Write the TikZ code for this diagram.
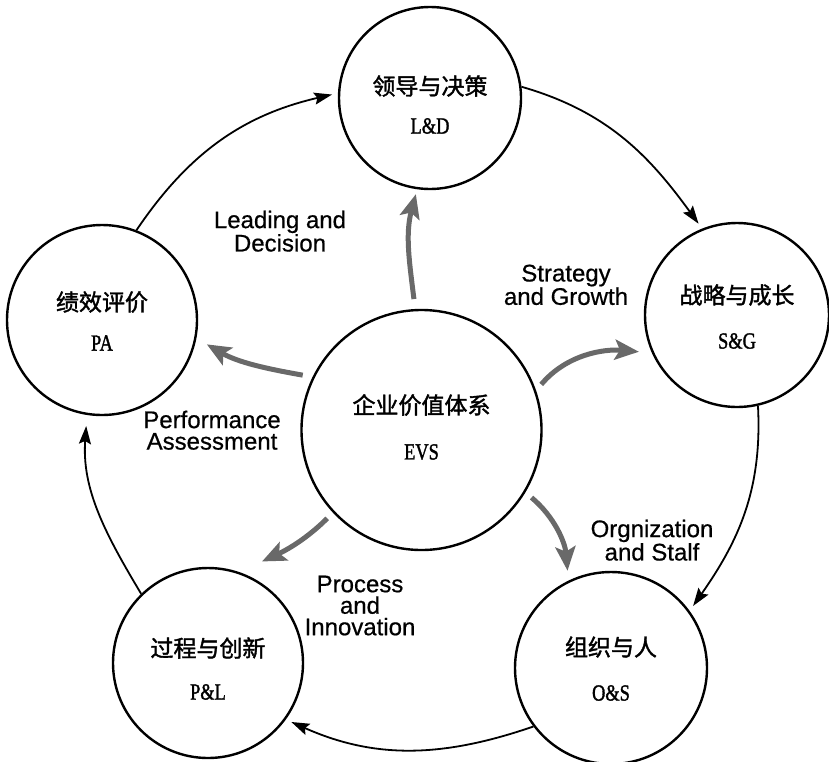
\documentclass[tikz,border=0pt]{standalone}
\usepackage{fontspec}
\usepackage{graphicx}
\setmainfont[FakeBold=0.6]{Liberation Sans}
\newfontfamily\cjk[FakeBold=1.6]{Noto Sans CJK SC}
\newfontfamily\abbr[FakeBold=1.6]{Liberation Serif}
\usetikzlibrary{arrows.meta}
\definecolor{flowgray}{RGB}{105,105,105}
\tikzset{
  hub/.style={circle, draw, line width=2.4pt, inner sep=0pt},
  cn/.style={font=\cjk\fontsize{23}{23}\selectfont, inner sep=0pt},
  ab/.style={font=\abbr\fontsize{23}{23}\selectfont, inner sep=0pt},
  lab/.style={font=\fontsize{24}{21.5}\selectfont, align=center, inner sep=0pt, anchor=north},
  cyc/.style={line width=1.8pt, -{Stealth[length=18pt,width=12pt,inset=3pt]}, shorten >=6pt},
  flow/.style={line width=5pt, draw=flowgray, -{Stealth[length=24pt,width=20pt,inset=5pt]}}
}
\newcommand{\narrow}[1]{\scalebox{0.8}[1]{#1}}
\begin{document}
\begin{tikzpicture}[x=1pt,y=1pt]
  \useasboundingbox (0,0) rectangle (829,-761);

  % the five areas around the value system
  \node[hub, minimum size=182pt] (LD) at (430,-98) {};
  \node[hub, minimum size=184pt] (SG) at (737,-315) {};
  \node[hub, minimum size=190pt] (PA) at (102,-320) {};
  \node[hub, minimum size=190pt] (PL) at (208,-663) {};
  \node[hub, minimum size=192pt] (OS) at (611,-668) {};
  \node[hub, minimum size=240pt] (EVS) at (421.5,-430) {};

  % titles inside the circles
  \node[cn] (LDcn) at ([yshift=12pt]LD.center) {领导与决策};
  \node[ab] (LDab) at ([yshift=-28pt]LD.center) {\narrow{L\&D}};
  \node[cn] (SGcn) at ([yshift=20pt]SG.center) {战略与成长};
  \node[ab] (SGab) at ([yshift=-26pt]SG.center) {\narrow{S\&G}};
  \node[cn] (PAcn) at ([yshift=18pt]PA.center) {绩效评价};
  \node[ab] (PAab) at ([yshift=-23pt]PA.center) {\narrow{PA}};
  \node[cn] (PLcn) at ([yshift=15pt]PL.center) {过程与创新};
  \node[ab] (PLab) at ([yshift=-29pt]PL.center) {\narrow{P\&L}};
  \node[cn] (OScn) at ([yshift=21pt]OS.center) {组织与人};
  \node[ab] (OSab) at ([yshift=-25pt]OS.center) {\narrow{O\&S}};
  \node[cn] (EVScn) at ([yshift=25pt]EVS.center) {企业价值体系};
  \node[ab] (EVSab) at ([yshift=-22pt]EVS.center) {\narrow{EVS}};

  % English captions
  \node[lab] (tLD) at (280,-210.5) {Leading and\\Decision};
  \node[lab] (tSG) at (566,-264.5) {Strategy\\and Growth};
  \node[lab] (tPA) at (212,-410.5) {Performance\\Assessment};
  \node[lab] (tPL) at (360,-575.5) {Process\\and\\Innovation};
  \node[lab] (tOS) at (652,-519.5) {Orgnization\\and Stalf};

  % outer cycle
  \draw[cyc] (PA.69) to[out=56, in=193] (LD.177);
  \draw[cyc] (LD.7) to[out=-16, in=126] (SG.112);
  \draw[cyc] (SG.283) to[out=-87, in=55] (OS.36);
  \draw[cyc] (OS.217) to[out=199, in=336] (PL.324);
  \draw[cyc, shorten >=11pt] (PL.134) to[out=121, in=266] (PA.261);

  % grey arrows from the centre
  \draw[flow, shorten <=10pt, shorten >=5pt] (EVS.93) to[out=97, in=255] (LD.262);
  \draw[flow, shorten <=10pt, shorten >=12pt] (EVS.154) to[out=170, in=330] (PA.349);
  \draw[flow, shorten <=8pt, shorten >=13pt] (EVS.19) to[out=50, in=175] (SG.204);
  \draw[flow, shorten <=8pt, shorten >=10pt] (EVS.329) to[out=-40, in=95] (OS.116);
  \draw[flow, shorten <=8pt, shorten >=25pt] (EVS.223) to[out=225, in=25] (PL.71);
\end{tikzpicture}
\end{document}
